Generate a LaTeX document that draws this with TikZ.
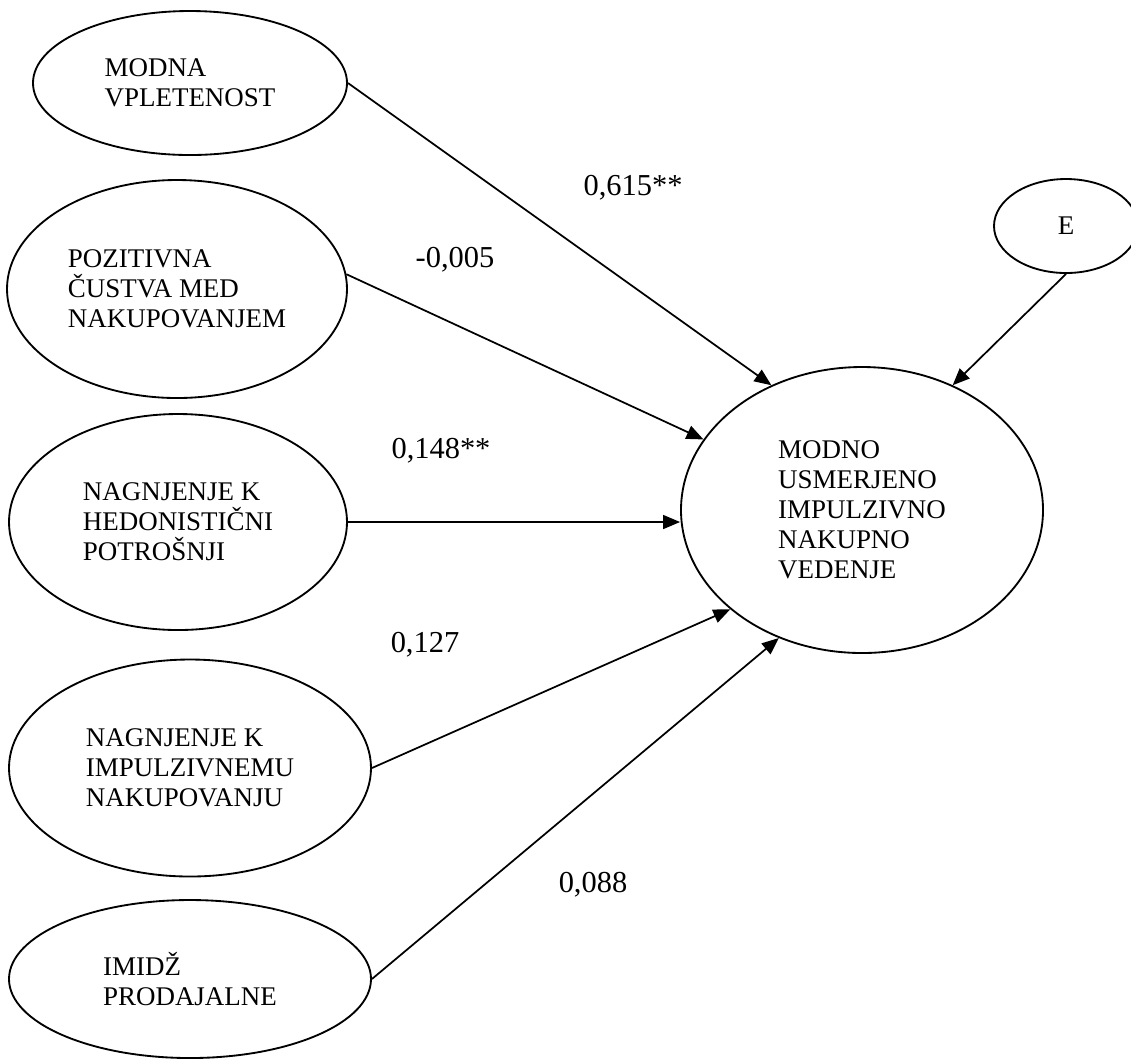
\documentclass[tikz,border=0pt]{standalone}
\usepackage{fontspec}
\setmainfont{Liberation Serif}
\usepackage{tikz}
\usetikzlibrary{arrows.meta, shapes.geometric}
\newcommand{\pxu}{0.46pt}
\tikzset{
  lat/.style 2 args={
    draw, ellipse, line width=0.85pt, inner sep=0pt,
    minimum width=#1*\pxu, minimum height=#2*\pxu,
    align=left, font=\fontsize{12.4}{13.8}\selectfont
  },
  sig/.style={-{Triangle[length=7.8pt,width=6.4pt]}, line width=0.8pt},
  lbl/.style={anchor=base, font=\fontsize{14}{16}\selectfont}
}
\begin{document}
\begin{tikzpicture}[x=0.46pt, y=-0.46pt]
  \useasboundingbox (0,0) rectangle (1131,1060);

  \node[lat={314}{144}] (mv)  at (190,83)  {MODNA\\VPLETENOST};
  \node[lat={340}{218}] (poz) at (177,289) {POZITIVNA\\ČUSTVA MED\\NAKUPOVANJEM};
  \node[lat={338}{216}] (hed) at (178,522) {NAGNJENJE K\\HEDONISTIČNI\\POTROŠNJI};
  \node[lat={362}{217}] (imp) at (190,768) {NAGNJENJE K\\IMPULZIVNEMU\\NAKUPOVANJU};
  \node[lat={362}{158}] (img) at (190,979) {IMIDŽ\\PRODAJALNE};
  \node[lat={362}{286}] (out) at (862,510) {MODNO\\USMERJENO\\IMPULZIVNO\\NAKUPNO\\VEDENJE};
  \node[lat={144}{94}]  (err) at (1066,226) {E};

  \draw[sig] (mv.east)  -- (out.126.6);
  \draw[sig] (poz.5)    -- (out.156);
  \draw[sig] (hed.east) -- (hed.east -| out.west);
  \draw[sig] (imp.east) -- (out.217);
  \draw[sig] (img.east) -- (out.237);
  \draw[sig] (err.south) -- (out.54.6);

  \node[lbl] (lmv)  at (633,195) {0,615**};
  \node[lbl] (lpoz) at (455,267) {-0,005};
  \node[lbl] (lhed) at (441,458) {0,148**};
  \node[lbl] (limp) at (425,652) {0,127};
  \node[lbl] (limg) at (593,892) {0,088};
\end{tikzpicture}
\end{document}
